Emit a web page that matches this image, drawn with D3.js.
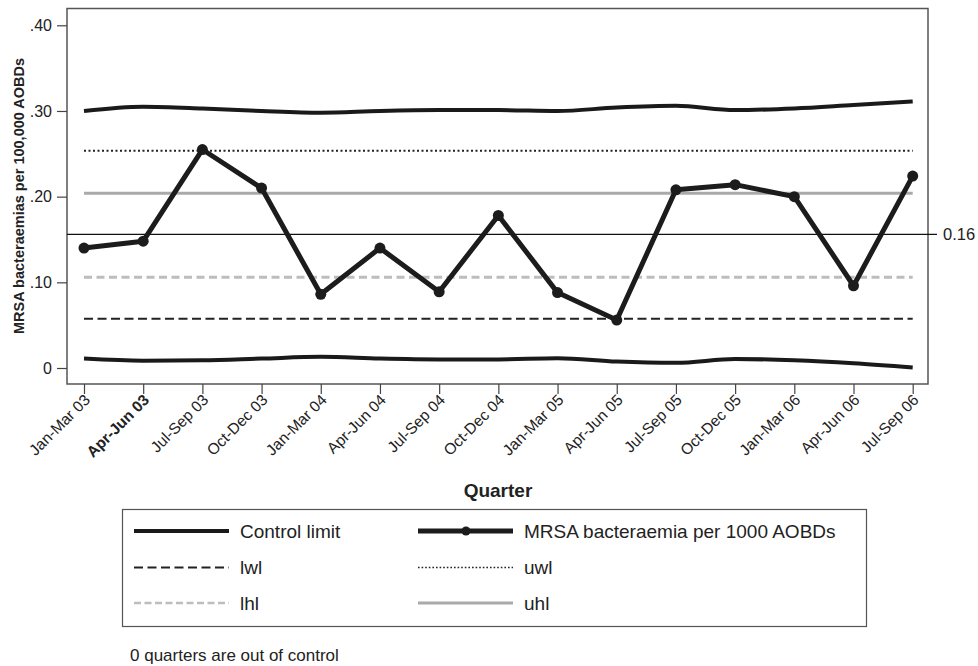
<!DOCTYPE html>
<html>
<head>
<meta charset="utf-8">
<script src="https://cdn.jsdelivr.net/npm/d3@7"></script>
<style>
  body { margin: 0; background: #fff; }
  svg { display: block; font-family: "Liberation Sans", Arial, sans-serif; }
</style>
</head>
<body>
<div id="chart"></div>
<script>
// quarters on the x axis
const quarters = ["Jan-Mar 03", "Apr-Jun 03", "Jul-Sep 03", "Oct-Dec 03",
  "Jan-Mar 04", "Apr-Jun 04", "Jul-Sep 04", "Oct-Dec 04",
  "Jan-Mar 05", "Apr-Jun 05", "Jul-Sep 05", "Oct-Dec 05",
  "Jan-Mar 06", "Apr-Jun 06", "Jul-Sep 06"]

// MRSA bacteraemia rate per quarter
const rate = [0.140, 0.148, 0.255, 0.210, 0.086, 0.140, 0.089, 0.178,
  0.088, 0.056, 0.208, 0.214, 0.200, 0.096, 0.224]

// upper / lower control limits
const upperCL = [0.300, 0.305, 0.303, 0.300, 0.298, 0.300, 0.301, 0.301,
  0.300, 0.304, 0.306, 0.301, 0.303, 0.307, 0.311]
const lowerCL = [0.011, 0.0085, 0.009, 0.011, 0.013, 0.011, 0.010, 0.010,
  0.0115, 0.0075, 0.006, 0.0105, 0.009, 0.0055, 0.0005]

const centre = 0.156
const centreLabel = "0.16"
const uwl = 0.2535, lwl = 0.0575
const uhl = 0.204, lhl = 0.106

const yTicks = [0, 0.1, 0.2, 0.3, 0.4]

const W = 978, H = 666
const frame = { left: 67, right: 928, top: 8.5, bottom: 384 }

const svg = d3.select("#chart").append("svg")
  .attr("width", W)
  .attr("height", H)

const x = d3.scalePoint()
  .domain(quarters)
  .range([84, 912.7])

const y = d3.scaleLinear()
  .domain([0, 0.4])
  .range([368, 25.3])

// frame
svg.append("rect")
  .attr("x", frame.left).attr("y", frame.top)
  .attr("width", frame.right - frame.left)
  .attr("height", frame.bottom - frame.top)
  .attr("fill", "none")
  .attr("stroke", "#555")
  .attr("stroke-width", 1.5)

// y axis
const yAxis = d3.axisLeft(y)
  .tickValues(yTicks)
  .tickSize(10)
  .tickPadding(5)
  .tickFormat(d => d === 0 ? "0" : d3.format(".2f")(d).replace(/^0/, ""))

const gy = svg.append("g")
  .attr("transform", "translate(" + frame.left + ",0)")
  .call(yAxis)
gy.select(".domain").remove()
gy.selectAll("line").attr("stroke", "#444").attr("stroke-width", 1.2)
gy.selectAll("text").attr("font-size", 16).attr("fill", "#222")

// x axis
const xAxis = d3.axisBottom(x).tickSize(10).tickFormat("")
const gx = svg.append("g")
  .attr("transform", "translate(0," + frame.bottom + ")")
  .call(xAxis)
gx.select(".domain").remove()
gx.selectAll("line").attr("stroke", "#444").attr("stroke-width", 1.2)

svg.append("g").selectAll("text")
  .data(quarters)
  .enter()
  .append("text")
  .attr("transform", d => "translate(" + (x(d) + 7) + ",401) rotate(-45)")
  .attr("text-anchor", "end")
  .attr("font-size", 15.5)
  .attr("font-weight", (d, i) => i === 1 ? "bold" : "normal")
  .attr("fill", "#222")
  .text(d => d)

// axis titles
svg.append("text")
  .attr("transform", "translate(24,196) rotate(-90)")
  .attr("text-anchor", "middle")
  .attr("font-size", 14.5)
  .attr("font-weight", "bold")
  .attr("fill", "#222")
  .text("MRSA bacteraemias per 100,000 AOBDs")

svg.append("text")
  .attr("x", 498).attr("y", 497)
  .attr("text-anchor", "middle")
  .attr("font-size", 19)
  .attr("font-weight", "bold")
  .attr("fill", "#222")
  .text("Quarter")

// reference lines
const x0 = x(quarters[0]), x1 = x(quarters[quarters.length - 1])
const refLines = [
  { v: lwl, color: "#222", width: 2, dash: "9,4.5" },
  { v: lhl, color: "#bdbdbd", width: 3, dash: "8,4.5" },
  { v: uhl, color: "#aaa", width: 3, dash: null },
  { v: uwl, color: "#222", width: 2, dash: "2,2.5" }
]
svg.append("g").selectAll("line")
  .data(refLines)
  .enter()
  .append("line")
  .attr("x1", x0).attr("x2", x1)
  .attr("y1", d => y(d.v)).attr("y2", d => y(d.v))
  .attr("stroke", d => d.color)
  .attr("stroke-width", d => d.width)
  .attr("stroke-dasharray", d => d.dash)

// centre line with label
svg.append("line")
  .attr("x1", frame.left).attr("x2", 937)
  .attr("y1", y(centre)).attr("y2", y(centre))
  .attr("stroke", "#111")
  .attr("stroke-width", 1.2)
svg.append("text")
  .attr("x", 943).attr("y", y(centre))
  .attr("dy", "0.35em")
  .attr("font-size", 16.5)
  .attr("fill", "#222")
  .text(centreLabel)

// control limits
const clLine = d3.line()
  .x((d, i) => x(quarters[i]))
  .y(d => y(d))
  .curve(d3.curveMonotoneX)

svg.selectAll(".cl")
  .data([upperCL, lowerCL])
  .enter()
  .append("path")
  .attr("class", "cl")
  .attr("d", clLine)
  .attr("fill", "none")
  .attr("stroke", "#1a1a1a")
  .attr("stroke-width", 4)

// rate series
const rateLine = d3.line()
  .x((d, i) => x(quarters[i]))
  .y(d => y(d))

svg.append("path")
  .datum(rate)
  .attr("d", rateLine)
  .attr("fill", "none")
  .attr("stroke", "#1c1c1c")
  .attr("stroke-width", 5)
  .attr("stroke-linejoin", "round")

svg.selectAll(".pt")
  .data(rate)
  .enter()
  .append("circle")
  .attr("class", "pt")
  .attr("cx", (d, i) => x(quarters[i]))
  .attr("cy", d => y(d))
  .attr("r", 5.5)
  .attr("fill", "#1c1c1c")

// legend
const legend = svg.append("g")
svg.append("rect")
  .attr("x", 122.5).attr("y", 509.5)
  .attr("width", 744).attr("height", 117)
  .attr("fill", "none")
  .attr("stroke", "#555")
  .attr("stroke-width", 1.2)

const legendItems = [
  { label: "Control limit", col: 0, row: 0, color: "#1a1a1a", width: 4, dash: null },
  { label: "MRSA bacteraemia per 1000 AOBDs", col: 1, row: 0, color: "#1c1c1c", width: 5, dash: null, dot: true },
  { label: "lwl", col: 0, row: 1, color: "#222", width: 2, dash: "9,4.5" },
  { label: "uwl", col: 1, row: 1, color: "#222", width: 1.6, dash: "1.6,2" },
  { label: "lhl", col: 0, row: 2, color: "#bdbdbd", width: 2.5, dash: "7,3.5" },
  { label: "uhl", col: 1, row: 2, color: "#aaa", width: 3, dash: null }
]
const colX = [134, 418]
const rowY = [531, 567.5, 603]

const li = legend.selectAll("g")
  .data(legendItems)
  .enter()
  .append("g")
  .attr("transform", d => "translate(" + colX[d.col] + "," + rowY[d.row] + ")")

li.append("line")
  .attr("x1", 0).attr("x2", 95)
  .attr("stroke", d => d.color)
  .attr("stroke-width", d => d.width)
  .attr("stroke-dasharray", d => d.dash)

li.filter(d => d.dot)
  .append("circle")
  .attr("cx", 48).attr("r", 4.5)
  .attr("fill", "#1c1c1c")

li.append("text")
  .attr("x", 106)
  .attr("dy", "0.35em")
  .attr("font-size", 19)
  .attr("fill", "#222")
  .text(d => d.label)

svg.append("text")
  .attr("x", 130).attr("y", 661)
  .attr("font-size", 17)
  .attr("fill", "#222")
  .text("0 quarters are out of control")
</script>
</body>
</html>
